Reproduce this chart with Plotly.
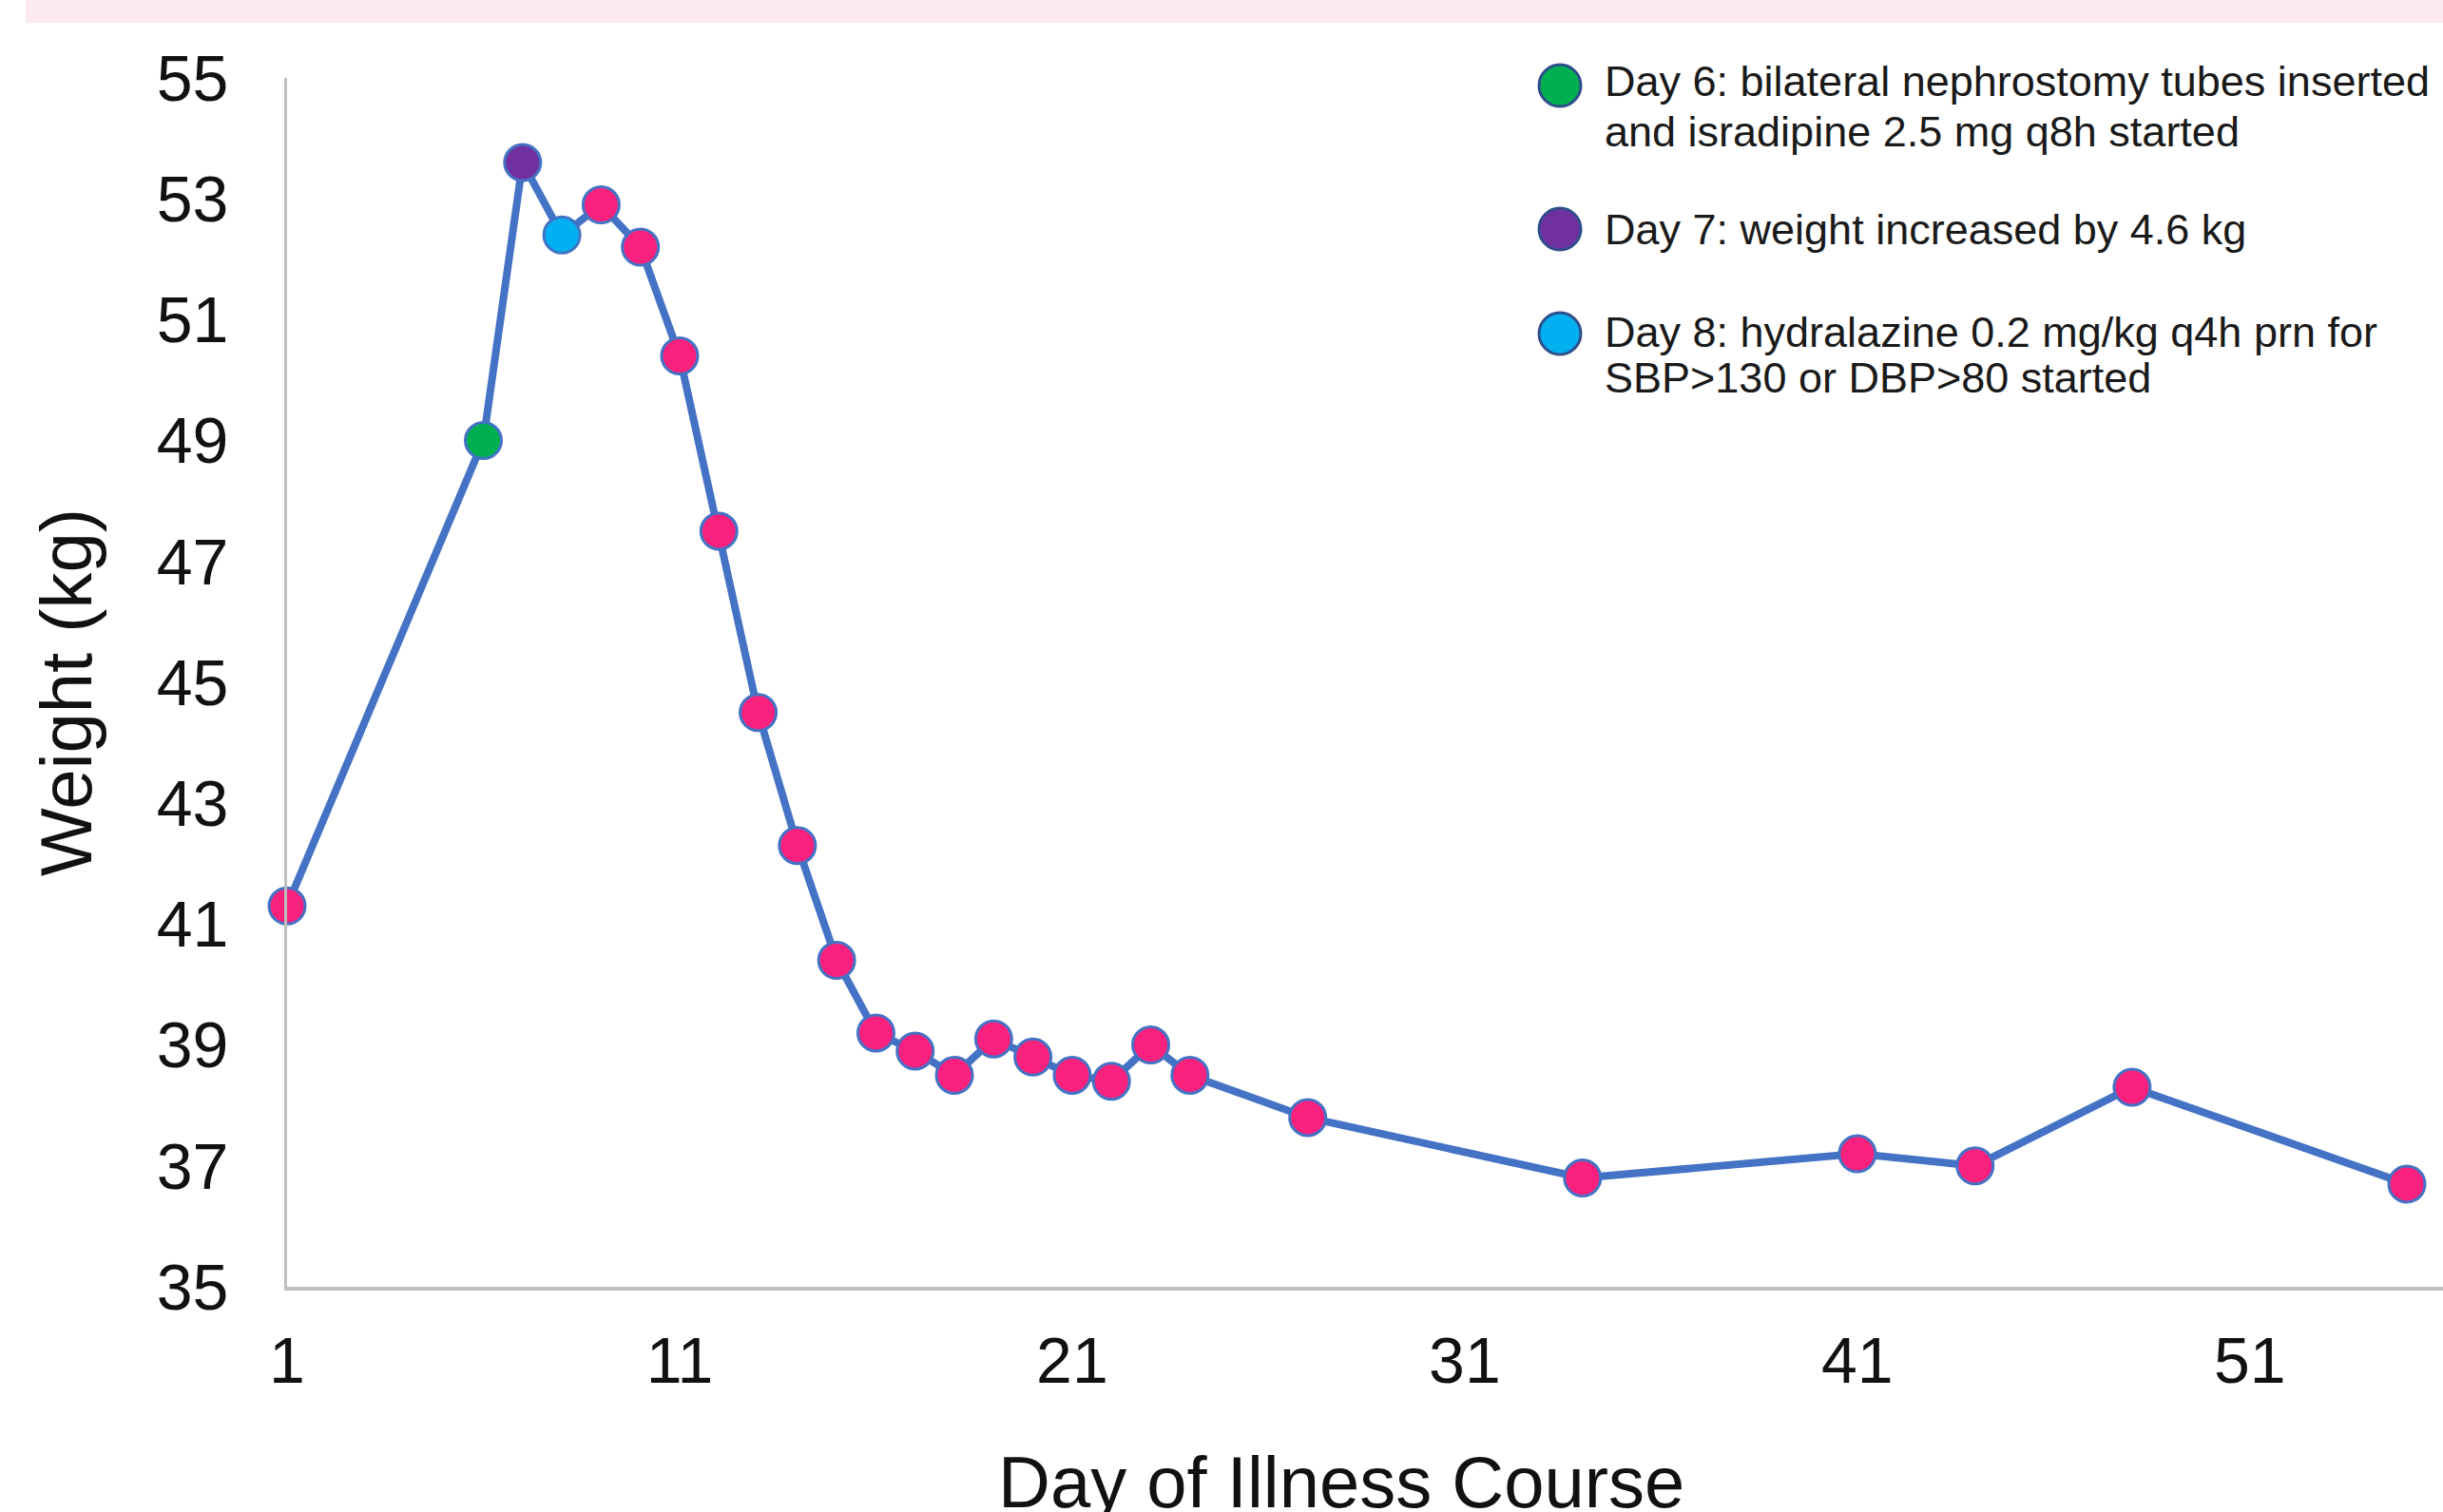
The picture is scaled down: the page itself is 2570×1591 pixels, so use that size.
import plotly.graph_objects as go

# ---- data ----
days = [1, 6, 7, 8, 9, 10, 11, 12, 13, 14, 15, 16, 17, 18, 19, 20, 21, 22, 23, 24, 27, 34, 41, 44, 48, 55]
weights = [41.3, 49.0, 53.6, 52.4, 52.9, 52.2, 50.4, 47.5, 44.5, 42.3, 40.4, 39.2, 38.9, 38.5, 39.1, 38.8,
           38.5, 38.4, 39.0, 38.5, 37.8, 36.8, 37.2, 37.0, 38.3, 36.7]
event_days = [6, 7, 8]
event_colors = ["#00B050", "#7030A0", "#00B0F0"]
event_lines = [
    ["Day 6: bilateral nephrostomy tubes inserted", "and isradipine 2.5 mg q8h started"],
    ["Day 7: weight increased by 4.6 kg"],
    ["Day 8: hydralazine 0.2 mg/kg q4h prn for", "SBP>130 or DBP>80 started"],
]
x_ticks = [1, 11, 21, 31, 41, 51]
y_ticks = [35, 37, 39, 41, 43, 45, 47, 49, 51, 53, 55]

PINK = "#F9207E"
BLUE = "#4472C4"
FONT = "Liberation Sans, Arial, sans-serif"

W, H = 2570, 1591
# desired page-pixel plot area (body margin removed via post_script)
PL, PR, PT, PB = 302, 2570, 82, 1354
L, T = PL, PT
R = W - PR
B = H - PB

def px_to_paper_x(px):
    return (px - PL) / (PR - PL)

def px_to_paper_y(py):
    return (PB - py) / (PB - PT)

colors = []
for d in days:
    if d in event_days:
        colors.append(event_colors[event_days.index(d)])
    else:
        colors.append(PINK)

fig = go.Figure()
fig.add_trace(go.Scatter(
    x=days, y=weights, mode="lines+markers",
    line=dict(color=BLUE, width=8),
    marker=dict(size=38, color=colors, line=dict(color=BLUE, width=3)),
    cliponaxis=False, showlegend=False,
))

shapes = []
annotations = []

# pink band on top
shapes.append(dict(type="rect", xref="paper", yref="paper",
                   x0=px_to_paper_x(27), x1=px_to_paper_x(2580), y0=px_to_paper_y(24), y1=px_to_paper_y(-10),
                   fillcolor="#FDE9F1", line=dict(width=0), layer="below"))

# custom legend (glyphs + text)
circle_y = [90, 241, 351]
text_y = [[85, 138], [241], [349, 398]]
cx, r = 1641, 22
for i, col in enumerate(event_colors):
    cy = circle_y[i]
    shapes.append(dict(type="circle", xref="paper", yref="paper",
                       x0=px_to_paper_x(cx - r), x1=px_to_paper_x(cx + r),
                       y0=px_to_paper_y(cy + r), y1=px_to_paper_y(cy - r),
                       fillcolor=col, line=dict(color="#2F4D8A", width=3)))
    for line_txt, ty in zip(event_lines[i], text_y[i]):
        annotations.append(dict(xref="paper", yref="paper", x=px_to_paper_x(1686), y=px_to_paper_y(ty),
                                xanchor="left", yanchor="middle", text=line_txt, showarrow=False,
                                font=dict(family=FONT, size=45, color="#1a1a1a")))

# axis titles
annotations.append(dict(xref="paper", yref="paper", x=px_to_paper_x(1411), y=px_to_paper_y(1559),
                        xanchor="center", yanchor="middle", text="Day of Illness Course", showarrow=False,
                        font=dict(family=FONT, size=76, color="#111111")))
annotations.append(dict(xref="paper", yref="paper", x=px_to_paper_x(69), y=px_to_paper_y(729),
                        xanchor="center", yanchor="middle", text="Weight (kg)", textangle=-90, showarrow=False,
                        font=dict(family=FONT, size=76, color="#111111")))

fig.update_layout(
    width=W, height=H,
    margin=dict(l=L, r=R, t=T, b=B, pad=0),
    paper_bgcolor="white", plot_bgcolor="white",
    shapes=shapes, annotations=annotations,
    showlegend=False,
)
fig.update_xaxes(range=[1, 55.92], tickvals=x_ticks, ticktext=[str(v) for v in x_ticks],
                 showgrid=False, zeroline=False, showline=True, linecolor="#BFBFBF", linewidth=4,
                 ticks="", ticklabelstandoff=15,
                 tickfont=dict(family=FONT, size=68, color="#111111"))
fig.update_yaxes(range=[35, 55], tickvals=y_ticks, ticktext=[str(v) for v in y_ticks],
                 showgrid=False, zeroline=False, showline=True, linecolor="#BFBFBF", linewidth=3,
                 ticks="", ticklabelstandoff=45,
                 tickfont=dict(family=FONT, size=68, color="#111111"))

fig.write_html("out.html",
               config={"displayModeBar": False},
               post_script="document.body.style.margin='0';document.body.style.overflow='hidden';")
